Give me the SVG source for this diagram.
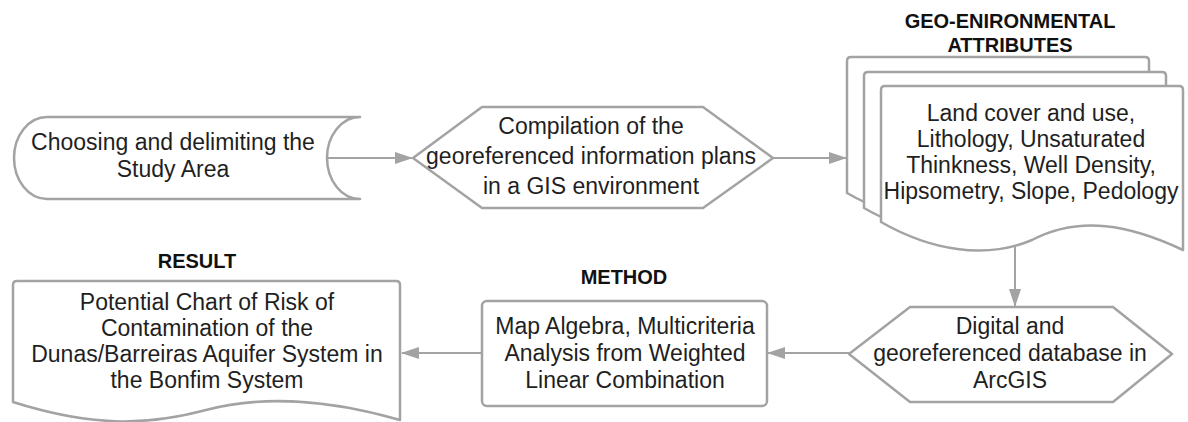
<svg xmlns="http://www.w3.org/2000/svg" width="1188" height="422" viewBox="0 0 1188 422">
  <style>
    .shape { fill: #ffffff; stroke: #a3a3a3; stroke-width: 2.5; stroke-linejoin: round; }
    .edge { fill: none; stroke: #a3a3a3; stroke-width: 2; }
    .txt { font-family: "Liberation Sans", Arial, sans-serif; font-size: 23px; fill: #1f1f1f; text-anchor: middle; }
    .head { font-family: "Liberation Sans", Arial, sans-serif; font-size: 20px; font-weight: bold; fill: #111111; text-anchor: middle; }
  </style>
  <defs>
    <marker id="arrow" viewBox="0 0 18 12" refX="17" refY="6" markerWidth="18" markerHeight="12" markerUnits="userSpaceOnUse" orient="auto">
      <path d="M0,0 L18,6 L0,12 Z" fill="#a3a3a3"/>
    </marker>
    <!-- one page of the stacked document shape -->
    <path id="page" d="M881,222 V90 Q881,86 885,86 H1179 Q1183,86 1183,90 V250 C1130,225 1080,215 1032,240 C985,260 930,250 881,222 Z"/>
  </defs>

  <!-- connectors -->
  <g id="connectors">
    <line class="edge" x1="327" y1="158" x2="412" y2="158" marker-end="url(#arrow)"/>
    <line class="edge" x1="773" y1="158" x2="846" y2="158" marker-end="url(#arrow)"/>
    <line class="edge" x1="1015" y1="245" x2="1015" y2="306" marker-end="url(#arrow)"/>
    <line class="edge" x1="849" y1="353" x2="768" y2="353" marker-end="url(#arrow)"/>
    <line class="edge" x1="482" y1="353" x2="402" y2="353" marker-end="url(#arrow)"/>
  </g>

  <!-- stored data: study area -->
  <g id="study-area">
    <path class="shape" d="M47,117 L360,117 A33,41 0 0 0 360,199 L47,199 A33,41 0 0 1 47,117 Z"/>
    <text class="txt" x="173" y="150">Choosing and delimiting the</text>
    <text class="txt" x="173" y="177">Study Area</text>
  </g>

  <!-- preparation: compilation -->
  <g id="compilation">
    <polygon class="shape" points="413,158 482,107 703,107 773,158 703,208 482,208"/>
    <text class="txt" x="591" y="134">Compilation of the</text>
    <text class="txt" x="591" y="164">georeferenced information plans</text>
    <text class="txt" x="591" y="194">in a GIS environment</text>
  </g>

  <!-- multiple documents: attributes -->
  <g id="attributes">
    <text class="head" x="1010" y="28">GEO-ENIRONMENTAL</text>
    <text class="head" x="1010" y="52">ATTRIBUTES</text>
    <use href="#page" class="shape" transform="translate(-34,-29)"/>
    <use href="#page" class="shape" transform="translate(-17,-14)"/>
    <use href="#page" class="shape"/>
    <text class="txt" x="1031" y="121">Land cover and use,</text>
    <text class="txt" x="1031" y="147">Lithology, Unsaturated</text>
    <text class="txt" x="1031" y="173">Thinkness, Well Density,</text>
    <text class="txt" x="1031" y="199">Hipsometry, Slope, Pedology</text>
  </g>

  <!-- preparation: database -->
  <g id="database">
    <polygon class="shape" points="849,354 910,307 1113,307 1172,354 1113,402 910,402"/>
    <text class="txt" x="1010" y="334">Digital and</text>
    <text class="txt" x="1010" y="361">georeferenced database in</text>
    <text class="txt" x="1010" y="388">ArcGIS</text>
  </g>

  <!-- process: method -->
  <g id="method">
    <text class="head" x="624" y="284">METHOD</text>
    <rect class="shape" x="482" y="301" width="285" height="105" rx="5"/>
    <text class="txt" x="625" y="334">Map Algebra, Multicriteria</text>
    <text class="txt" x="625" y="361">Analysis from Weighted</text>
    <text class="txt" x="625" y="388">Linear Combination</text>
  </g>

  <!-- document: result -->
  <g id="result">
    <text class="head" x="197" y="268">RESULT</text>
    <path class="shape" d="M13,402 V285 Q13,281 17,281 H396 Q400,281 400,285 V420 C330,400 262,395 206,410 C150,425 95,428 13,402 Z"/>
    <text class="txt" x="207" y="310">Potential Chart of Risk of</text>
    <text class="txt" x="207" y="336">Contamination of the</text>
    <text class="txt" x="207" y="362">Dunas/Barreiras Aquifer System in</text>
    <text class="txt" x="207" y="388">the Bonfim System</text>
  </g>
</svg>
